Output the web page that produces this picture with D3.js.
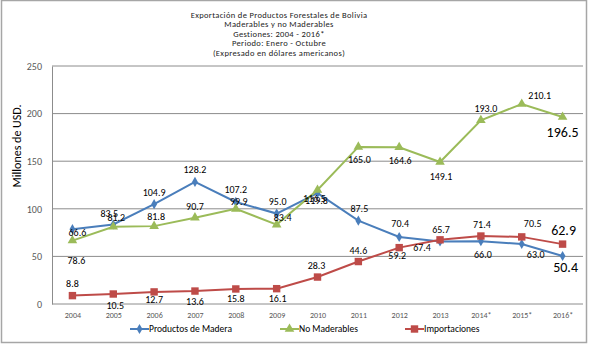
<!DOCTYPE html>
<html>
<head>
<meta charset="utf-8">
<script src="https://cdn.jsdelivr.net/npm/d3@7"></script>
<style>
  body { margin: 0; background: #fff; }
  text { font-family: Calibri, Carlito, "Liberation Sans", sans-serif; }
</style>
</head>
<body>
<script>
// data
const years = ['2004','2005','2006','2007','2008','2009','2010','2011','2012','2013','2014*','2015*','2016*'];
const madera = [78.6, 83.5, 104.9, 128.2, 107.2, 95.0, 116.5, 87.5, 70.4, 65.7, 66.0, 63.0, 50.4];
const noMaderables = [66.6, 81.2, 81.8, 90.7, 99.9, 83.4, 119.8, 165.0, 164.6, 149.1, 193.0, 210.1, 196.5];
const importaciones = [8.8, 10.5, 12.7, 13.6, 15.8, 16.1, 28.3, 44.6, 59.2, 67.4, 71.4, 70.5, 62.9];
const yTicks = [0, 50, 100, 150, 200, 250];
const titleLines = [
  'Exportación de Productos Forestales de Bolivia',
  'Maderables y no Maderables',
  'Gestiones: 2004 - 2016*',
  'Periodo: Enero - Octubre',
  '(Expresado en dólares americanos)'
];

// label offsets (dx, dy) per point
const maderaOff = [[4,31],[-4,-11],[0,-12],[0,-12],[0,-12],[1,-12],[-3,5],[1,-12],[1,-13],[1,-12],[2,13],[14,10],[3,11]];
const noMadOff = [[5,-8],[3,-9],[2,-10],[0,-11],[3,-7],[6,-7],[-1,11],[1,13],[1,13],[1,14],[5,-12],[18,-8],[0,15]];
const impOff = [[0,-12],[2,11],[0,8],[0,10],[0,10],[1,10],[-1,-12],[0,-11],[-2,8],[-18,8],[1,-12],[11,-13],[1,-14]];

const width = 589, height = 345;
const margin = { top: 66, bottom: 41, left: 52, right: 6 };

const svg = d3.select('body').append('svg')
  .attr('width', width).attr('height', height);

// outer frame
svg.append('rect')
  .attr('x', 1.5).attr('y', 0.5)
  .attr('width', 585).attr('height', 342)
  .attr('fill', 'none').attr('stroke', '#a6a6a6').attr('stroke-width', 1.5);

const x = d3.scalePoint()
  .domain(years)
  .range([margin.left, width - margin.right])
  .padding(0.5);

const y = d3.scaleLinear()
  .domain([0, 250])
  .range([height - margin.bottom, margin.top]);

// gridlines
svg.append('g')
  .selectAll('line')
  .data(yTicks.slice(1))
  .enter().append('line')
  .attr('x1', margin.left).attr('x2', width - margin.right)
  .attr('y1', d => y(d)).attr('y2', d => y(d))
  .attr('stroke', '#8c8c8c').attr('stroke-width', 1);

// axes
const yaxis = svg.append('g')
  .attr('transform', `translate(${margin.left},0)`)
  .call(d3.axisLeft(y).tickValues(yTicks).tickSize(0).tickPadding(10));
yaxis.select('.domain').attr('stroke', '#8c8c8c');
yaxis.selectAll('text').attr('fill', '#595959').style('font-size', '10px');

const xaxis = svg.append('g')
  .attr('transform', `translate(0,${y(0)})`)
  .call(d3.axisBottom(x).tickSize(0).tickPadding(8));
xaxis.select('.domain').attr('stroke', '#8c8c8c').attr('d', `M${margin.left},0H${width - margin.right}`);
xaxis.selectAll('text').attr('fill', '#595959').style('font-size', '8px');

// title
svg.append('g').selectAll('text')
  .data(titleLines)
  .enter().append('text')
  .attr('x', 279)
  .attr('y', (d, i) => 18 + i * 9.4)
  .attr('text-anchor', 'middle')
  .style('font-size', '8.5px')
  .style('letter-spacing', '0.35px')
  .attr('fill', '#222')
  .text(d => d);

// y title
svg.append('text')
  .attr('transform', 'translate(21,146) rotate(-90)')
  .attr('text-anchor', 'middle')
  .style('font-size', '12px')
  .attr('fill', '#000')
  .text('Millones de USD.');

const series = [
  { name: 'Productos de Madera', values: madera, color: '#4a7ebb', marker: d3.symbolDiamond, size: 30, off: maderaOff },
  { name: 'No Maderables', values: noMaderables, color: '#9bbb59', marker: d3.symbolTriangle, size: 40, off: noMadOff },
  { name: 'Importaciones', values: importaciones, color: '#be4b48', marker: d3.symbolSquare, size: 55, off: impOff }
];

const line = d3.line()
  .x((d, i) => x(years[i]))
  .y(d => y(d));

series.forEach(s => {
  svg.append('path')
    .datum(s.values)
    .attr('d', line)
    .attr('fill', 'none')
    .attr('stroke', s.color)
    .attr('stroke-width', 2);

  svg.append('g').selectAll('path')
    .data(s.values)
    .enter().append('path')
    .attr('d', d3.symbol().type(s.marker).size(s.size))
    .attr('transform', (d, i) => `translate(${x(years[i])},${y(d)})`)
    .attr('fill', s.color);
});

series.forEach(s => {
  svg.append('g').selectAll('text')
    .data(s.values)
    .enter().append('text')
    .attr('x', (d, i) => x(years[i]) + s.off[i][0])
    .attr('y', (d, i) => y(d) + s.off[i][1])
    .attr('dy', '0.35em')
    .attr('text-anchor', 'middle')
    .style('font-size', (d, i) => i === years.length - 1 ? '14px' : '10px')
    .attr('fill', '#000')
    .text(d => d.toFixed(1));
});

// legend
const legendX = [130, 280, 405];
const legend = svg.append('g').selectAll('g')
  .data(series)
  .enter().append('g')
  .attr('transform', (d, i) => `translate(${legendX[i]},329)`);
legend.append('line')
  .attr('x1', 0).attr('x2', 19)
  .attr('stroke', d => d.color).attr('stroke-width', 2);
legend.append('path')
  .attr('d', d => d3.symbol().type(d.marker).size(d.size)())
  .attr('transform', 'translate(9.5,0)')
  .attr('fill', d => d.color);
legend.append('text')
  .attr('x', 19).attr('dy', '0.35em')
  .style('font-size', '9.5px')
  .attr('fill', '#000')
  .text(d => d.name);
</script>
</body>
</html>
